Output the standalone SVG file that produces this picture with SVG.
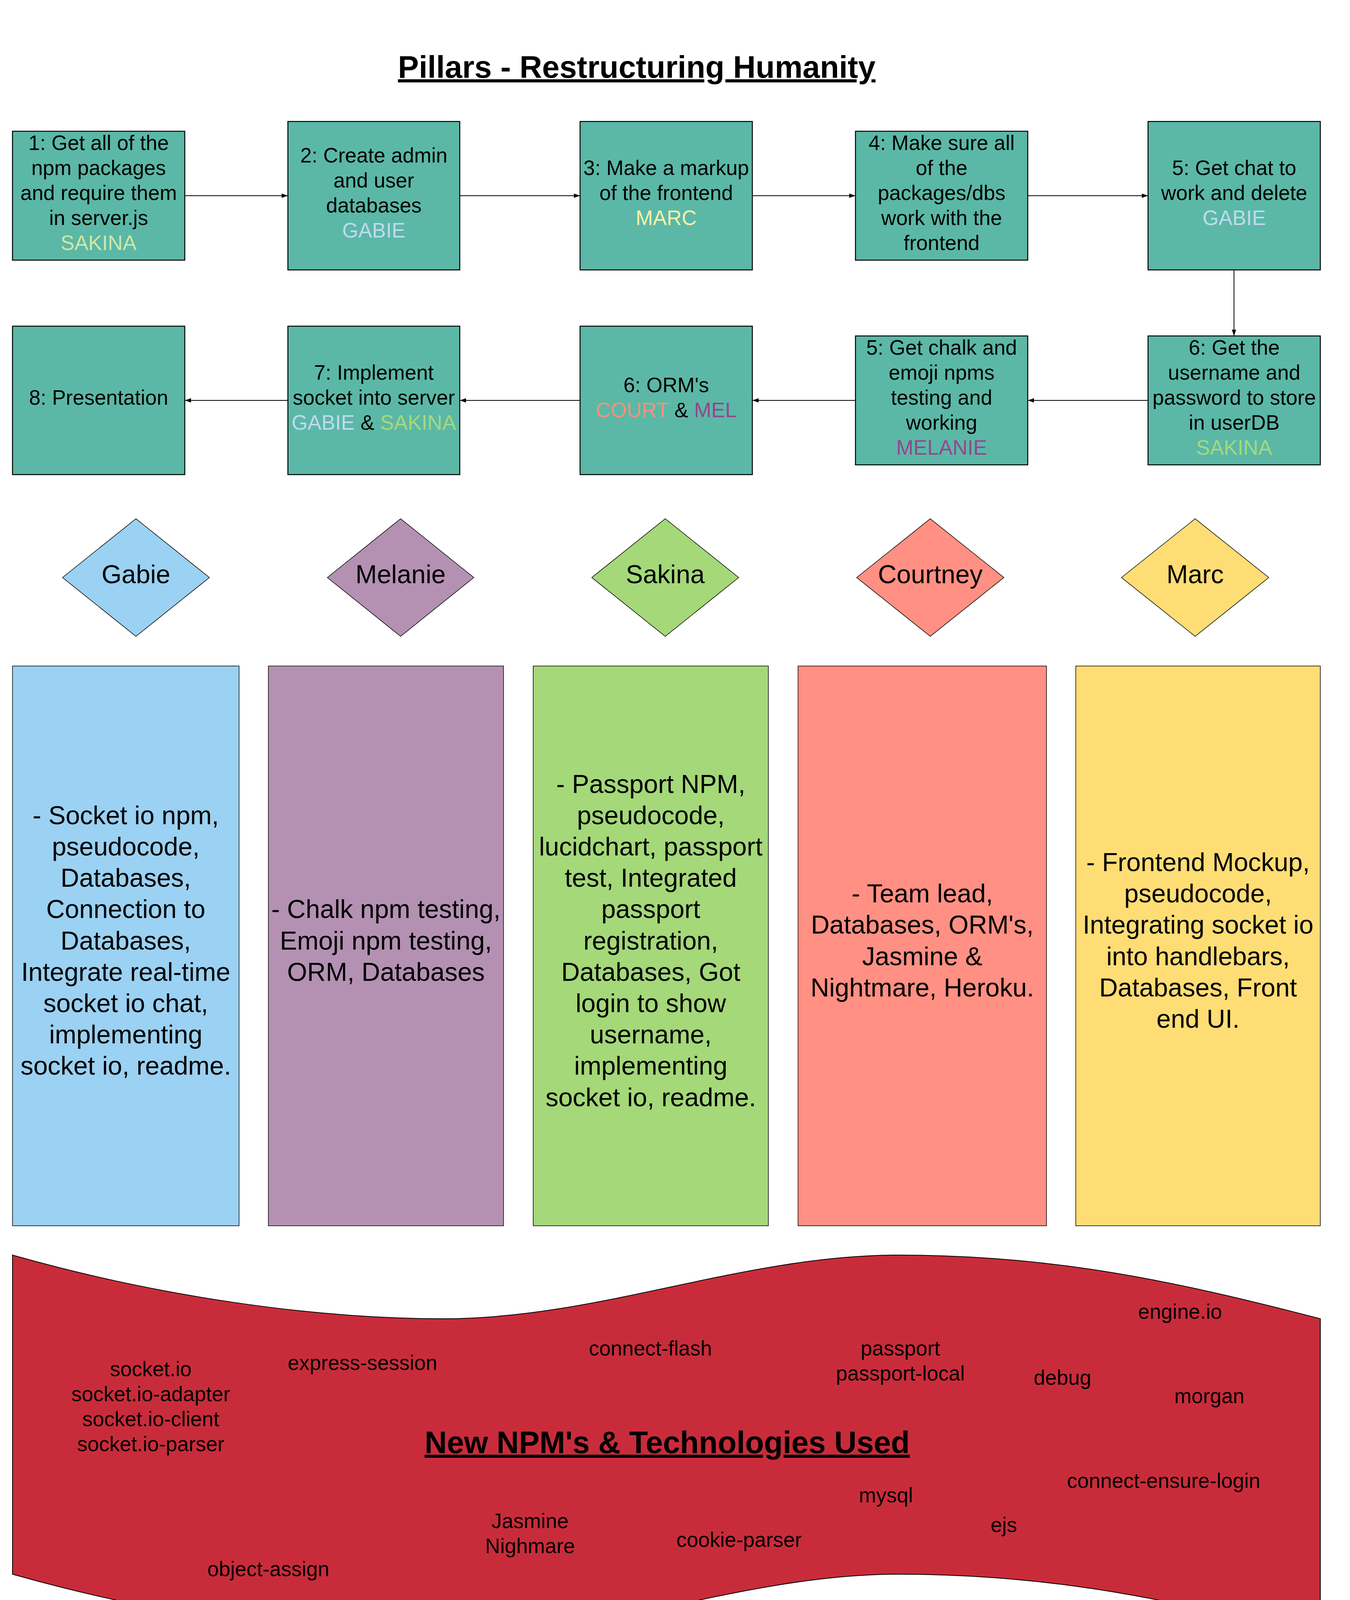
<svg xmlns="http://www.w3.org/2000/svg" width="3456" height="6543" viewBox="0 0 3456 6543">
<defs>
<marker id="ah" markerUnits="userSpaceOnUse" markerWidth="17" markerHeight="12" refX="16" refY="6" orient="auto"><path d="M0,0.5 L16,6 L0,11.5 Z" fill="#000"/></marker>
<style>
text{font-family:"Liberation Sans",Arial,sans-serif;fill:#000;text-anchor:middle}
.step{fill:#5BB8A6;stroke:#000;stroke-width:2.5}
.t53{font-size:53px}
.t66{font-size:66px}
.t105{font-size:105px}
.b{font-weight:bold;text-decoration:underline}
.dia{stroke:#000;stroke-width:1.5}
.col{stroke:#000;stroke-width:1.5}
.conn{stroke:#000;stroke-width:2;fill:none;marker-end:url(#ah)}
.sak{fill:#CDE8A8}
.sak2{fill:#A7D97B}
.gab{fill:#BFDBF0}
.mar{fill:#FFF0A8}
.cou{fill:#F7917F}
.mel{fill:#94468F}
</style>
</defs>
<rect width="3456" height="6543" fill="#fff"/>

<g id="title"><text class="b" x="1630" y="199" style="font-size:80px">Pillars - Restructuring Humanity</text></g>

<g id="connectors">
<line class="conn" x1="473" y1="501" x2="737" y2="501"/>
<line class="conn" x1="1177" y1="501" x2="1485" y2="501"/>
<line class="conn" x1="1926" y1="501" x2="2190" y2="501"/>
<line class="conn" x1="2631" y1="501" x2="2939" y2="501"/>
<line class="conn" x1="3159" y1="691" x2="3159" y2="860"/>
<line class="conn" x1="2939" y1="1025" x2="2631" y2="1025"/>
<line class="conn" x1="2190" y1="1025" x2="1926" y2="1025"/>
<line class="conn" x1="1485" y1="1025" x2="1177" y2="1025"/>
<line class="conn" x1="737" y1="1025" x2="473" y2="1025"/>
</g>

<g id="step1"><rect class="step" x="32" y="336" width="441" height="330"/>
<text class="t53"><tspan x="252.5" y="383.5">1: Get all of the</tspan><tspan x="252.5" y="447.5">npm packages</tspan><tspan x="252.5" y="511.5">and require them</tspan><tspan x="252.5" y="575.5">in server.js</tspan><tspan x="252.5" y="639.5" class="sak">SAKINA</tspan></text></g>

<g id="step2"><rect class="step" x="737" y="311" width="440" height="380"/>
<text class="t53"><tspan x="957" y="415.5">2: Create admin</tspan><tspan x="957" y="479.5">and user</tspan><tspan x="957" y="543.5">databases</tspan><tspan x="957" y="607.5" class="gab">GABIE</tspan></text></g>

<g id="step3"><rect class="step" x="1485" y="311" width="441" height="380"/>
<text class="t53"><tspan x="1705.5" y="447.5">3: Make a markup</tspan><tspan x="1705.5" y="511.5">of the frontend</tspan><tspan x="1705.5" y="575.5" class="mar">MARC</tspan></text></g>

<g id="step4"><rect class="step" x="2190" y="336" width="441" height="330"/>
<text class="t53"><tspan x="2410.5" y="383.5">4: Make sure all</tspan><tspan x="2410.5" y="447.5">of the</tspan><tspan x="2410.5" y="511.5">packages/dbs</tspan><tspan x="2410.5" y="575.5">work with the</tspan><tspan x="2410.5" y="639.5">frontend</tspan></text></g>

<g id="step5"><rect class="step" x="2939" y="311" width="441" height="380"/>
<text class="t53"><tspan x="3159.5" y="447.5">5: Get chat to</tspan><tspan x="3159.5" y="511.5">work and delete</tspan><tspan x="3159.5" y="575.5" class="gab">GABIE</tspan></text></g>

<g id="step6b"><rect class="step" x="2939" y="860" width="441" height="330"/>
<text class="t53"><tspan x="3159.5" y="907.5">6: Get the</tspan><tspan x="3159.5" y="971.5">username and</tspan><tspan x="3159.5" y="1035.5">password to store</tspan><tspan x="3159.5" y="1099.5">in userDB</tspan><tspan x="3159.5" y="1163.5" class="sak2">SAKINA</tspan></text></g>

<g id="step5b"><rect class="step" x="2190" y="860" width="441" height="330"/>
<text class="t53"><tspan x="2410.5" y="907.5">5: Get chalk and</tspan><tspan x="2410.5" y="971.5">emoji npms</tspan><tspan x="2410.5" y="1035.5">testing and</tspan><tspan x="2410.5" y="1099.5">working</tspan><tspan x="2410.5" y="1163.5" class="mel">MELANIE</tspan></text></g>

<g id="step6"><rect class="step" x="1485" y="835" width="441" height="380"/>
<text class="t53"><tspan x="1705.5" y="1003.5">6: ORM's</tspan><tspan x="1705.5" y="1067.5"><tspan class="cou">COURT</tspan> &amp; <tspan class="mel">MEL</tspan></tspan></text></g>

<g id="step7"><rect class="step" x="737" y="835" width="440" height="380"/>
<text class="t53"><tspan x="957" y="971.5">7: Implement</tspan><tspan x="957" y="1035.5">socket into server</tspan><tspan x="957" y="1099.5"><tspan class="gab">GABIE</tspan> &amp; <tspan class="sak2">SAKINA</tspan></tspan></text></g>

<g id="step8"><rect class="step" x="32" y="835" width="441" height="380"/>
<text class="t53" x="252.5" y="1035.5">8: Presentation</text></g>

<g id="d-gabie"><polygon class="dia" fill="#9BD1F2" points="160,1478.5 348,1328 536,1478.5 348,1629"/><text class="t66" x="348" y="1493">Gabie</text></g>
<g id="d-melanie"><polygon class="dia" fill="#B491B3" points="838,1478.5 1025.5,1328 1213,1478.5 1025.5,1629"/><text class="t66" x="1025.5" y="1493">Melanie</text></g>
<g id="d-sakina"><polygon class="dia" fill="#A4D879" points="1515,1478.5 1703,1328 1891,1478.5 1703,1629"/><text class="t66" x="1703" y="1493">Sakina</text></g>
<g id="d-courtney"><polygon class="dia" fill="#FF9083" points="2193,1478.5 2381.5,1328 2570,1478.5 2381.5,1629"/><text class="t66" x="2381.5" y="1493">Courtney</text></g>
<g id="d-marc"><polygon class="dia" fill="#FFDD75" points="2871,1478.5 3059.5,1328 3248,1478.5 3059.5,1629"/><text class="t66" x="3059.5" y="1493">Marc</text></g>

<g id="c-gabie"><rect class="col" fill="#9BD1F2" x="32" y="1705" width="580" height="1433"/>
<text class="t66"><tspan x="322" y="2109.7">- Socket io npm,</tspan><tspan x="322" y="2189.9">pseudocode,</tspan><tspan x="322" y="2270.1">Databases,</tspan><tspan x="322" y="2350.3">Connection to</tspan><tspan x="322" y="2430.5">Databases,</tspan><tspan x="322" y="2510.7">Integrate real-time</tspan><tspan x="322" y="2590.9">socket io chat,</tspan><tspan x="322" y="2671.1">implementing</tspan><tspan x="322" y="2751.3">socket io, readme.</tspan></text></g>

<g id="c-melanie"><rect class="col" fill="#B491B3" x="687" y="1705" width="602" height="1433"/>
<text class="t66"><tspan x="988" y="2350.3">- Chalk npm testing,</tspan><tspan x="988" y="2430.5">Emoji npm testing,</tspan><tspan x="988" y="2510.7">ORM, Databases</tspan></text></g>

<g id="c-sakina"><rect class="col" fill="#A4D879" x="1365" y="1705" width="602" height="1433"/>
<text class="t66"><tspan x="1666" y="2029.5">- Passport NPM,</tspan><tspan x="1666" y="2109.7">pseudocode,</tspan><tspan x="1666" y="2189.9">lucidchart, passport</tspan><tspan x="1666" y="2270.1">test, Integrated</tspan><tspan x="1666" y="2350.3">passport</tspan><tspan x="1666" y="2430.5">registration,</tspan><tspan x="1666" y="2510.7">Databases, Got</tspan><tspan x="1666" y="2590.9">login to show</tspan><tspan x="1666" y="2671.1">username,</tspan><tspan x="1666" y="2751.3">implementing</tspan><tspan x="1666" y="2831.5">socket io, readme.</tspan></text></g>

<g id="c-courtney"><rect class="col" fill="#FF9083" x="2043" y="1705" width="636" height="1433"/>
<text class="t66"><tspan x="2361" y="2310.2">- Team lead,</tspan><tspan x="2361" y="2390.4">Databases, ORM's,</tspan><tspan x="2361" y="2470.6">Jasmine &amp;</tspan><tspan x="2361" y="2550.8">Nightmare, Heroku.</tspan></text></g>

<g id="c-marc"><rect class="col" fill="#FFDD75" x="2754" y="1705" width="626" height="1433"/>
<text class="t66"><tspan x="3067" y="2230">- Frontend Mockup,</tspan><tspan x="3067" y="2310.2">pseudocode,</tspan><tspan x="3067" y="2390.4">Integrating socket io</tspan><tspan x="3067" y="2470.6">into handlebars,</tspan><tspan x="3067" y="2550.8">Databases, Front</tspan><tspan x="3067" y="2631">end UI.</tspan></text></g>

<g id="npm-banner">
<path fill="#C82C3A" stroke="#000" stroke-width="2" d="M32,3213 C402,3318 800,3376 1135,3376 C1535,3376 1900,3213 2300,3213 C2700,3213 3010,3280 3380,3376 L3380,4193 C3010,4097 2700,4030 2300,4030 C1900,4030 1535,4193 1135,4193 C800,4193 402,4135 32,4030 Z"/>
<text class="b" x="1708" y="3720" style="font-size:79px">New NPM's &amp; Technologies Used</text>
<text class="t53"><tspan x="386" y="3523">socket.io</tspan><tspan x="386" y="3587">socket.io-adapter</tspan><tspan x="386" y="3651">socket.io-client</tspan><tspan x="386" y="3715">socket.io-parser</tspan></text>
<text class="t53" x="928" y="3507">express-session</text>
<text class="t53" x="1665" y="3470">connect-flash</text>
<text class="t53"><tspan x="2305" y="3470">passport</tspan><tspan x="2305" y="3534">passport-local</tspan></text>
<text class="t53" x="2720" y="3545">debug</text>
<text class="t53" x="3021" y="3376">engine.io</text>
<text class="t53" x="3096" y="3592">morgan</text>
<text class="t53" x="2979" y="3809">connect-ensure-login</text>
<text class="t53" x="2268" y="3846">mysql</text>
<text class="t53" x="2570" y="3922">ejs</text>
<text class="t53" x="1892" y="3960">cookie-parser</text>
<text class="t53"><tspan x="1357" y="3912">Jasmine</tspan><tspan x="1357" y="3976">Nighmare</tspan></text>
<text class="t53" x="687" y="4035">object-assign</text>
</g>

<g id="pillars-db">
<path fill="#FFD9A8" stroke="#000" stroke-width="1.5" d="M32,4735 A758.5,166 0 0 1 1549,4735 L1549,6066 A758.5,164 0 0 1 32,6066 Z"/>
<path fill="none" stroke="#000" stroke-width="1.5" d="M32,4735 A758.5,166 0 0 0 1549,4735"/>
<text class="b" x="763" y="5178" style="font-size:105px">PILLARS DB:</text>
<text class="t105"><tspan x="763" y="5305">- chatTable</tspan><tspan x="763" y="5433">- faqTable</tspan><tspan x="763" y="5560">- linksTable</tspan><tspan x="763" y="5688">- userTable</tspan><tspan x="763" y="5817">- users-chats</tspan><tspan x="763" y="5944">- offensiveTable</tspan></text>
</g>

<g id="future-devs">
<polygon fill="#FFEAA6" stroke="#000" stroke-width="1.5" points="2143,4608 2781,4608 3221,5057 3221,5705 2781,6153 2143,6153 1704,5705 1704,5057"/>
<text class="b" x="2463" y="5001" style="font-size:105px">FUTURE DEVS:</text>
<text class="t105"><tspan x="2463" y="5131">- Real-Time Help</tspan><tspan x="2463" y="5259">- Local chat rooms</tspan><tspan x="2463" y="5387">- If person was helpful</tspan><tspan x="2463" y="5512">- Causes(meetup)</tspan><tspan x="2463" y="5641">- Default Icons</tspan><tspan x="2463" y="5770">- Bot prevention</tspan><tspan x="2463" y="5896">- Password reset</tspan></text>
</g>
</svg>
